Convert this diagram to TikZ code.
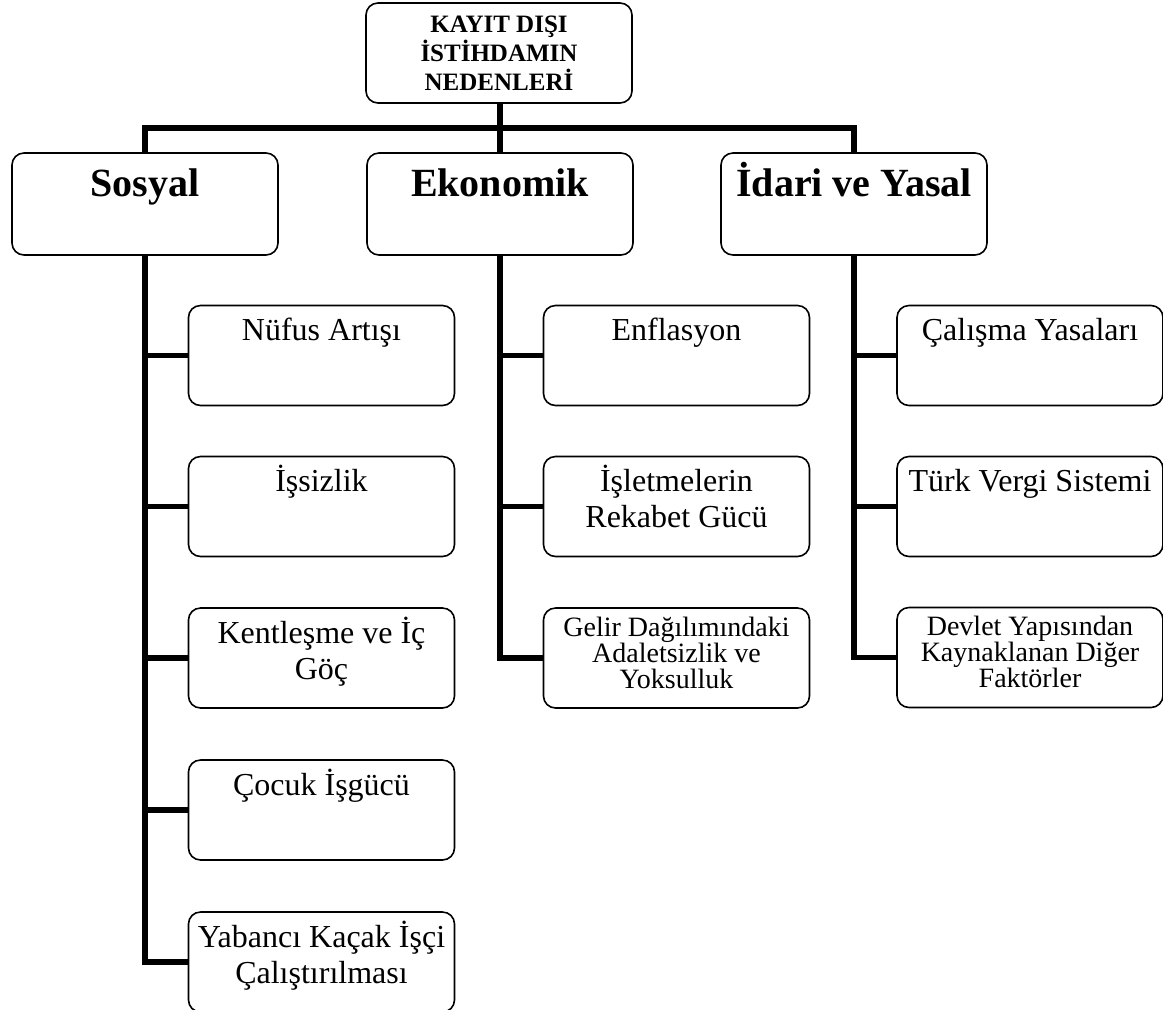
\documentclass[tikz,border=0pt]{standalone}
\usepackage{fontspec}
\setmainfont{Liberation Serif}
\newcommand{\kutuyazi}[1]{\parbox[t]{130pt}{\centering #1}}

\begin{document}
\begin{tikzpicture}[x=0.5pt, y=-0.5pt,
    kutu/.style={draw, line width=0.8pt, rounded corners=6pt,
        minimum width=133pt, minimum height=50pt, inner sep=0pt},
    ana/.style={kutu, minimum height=51pt},
    metin/.style={anchor=base, inner sep=0pt, yshift=-18pt,
        font=\fontsize{16}{18}\selectfont},
    kucuk/.style={metin, yshift=3.5pt, font=\fontsize{14}{13}\selectfont},
    baslikyazi/.style={metin, yshift=-4pt, font=\bfseries\fontsize{20}{24}\selectfont},
    hat/.style={line width=2.6pt, line join=miter}]
    \useasboundingbox (0,0) rectangle (1163,1009);

    % ust kutu
    \node[kutu, align=center, font=\bfseries\fontsize{12.5}{14.5}\selectfont]
        (baslik) at (499,53) {KAYIT DIŞI\\İSTİHDAMIN\\NEDENLERİ};

    % ana basliklar
    \node[ana, label={[baslikyazi]north:Sosyal}] (sosyal) at (145,204) {};
    \node[ana, label={[baslikyazi]north:Ekonomik}] (ekonomik) at (500,204) {};
    \node[ana, label={[baslikyazi]north:İdari ve Yasal}] (idari) at (854,204) {};

    % sosyal
    \node[kutu, label={[metin]north:\kutuyazi{Nüfus Artışı}}] (nufus) at (321.5,355.5) {};
    \node[kutu, label={[metin]north:\kutuyazi{İşsizlik}}] (issizlik) at (321.5,506.5) {};
    \node[kutu, label={[metin]north:\kutuyazi{Kentleşme ve İç\\Göç}}] (kentlesme) at (321.5,658) {};
    \node[kutu, label={[metin]north:\kutuyazi{Çocuk İşgücü}}] (cocuk) at (321.5,810) {};
    \node[kutu, label={[metin]north:\kutuyazi{Yabancı Kaçak İşçi\\Çalıştırılması}}] (yabanci) at (321.5,962) {};

    % ekonomik
    \node[kutu, label={[metin]north:\kutuyazi{Enflasyon}}] (enflasyon) at (676.5,355.5) {};
    \node[kutu, label={[metin]north:\kutuyazi{İşletmelerin\\Rekabet Gücü}}] (rekabet) at (676.5,506.5) {};
    \node[kutu, label={[kucuk]north:\kutuyazi{Gelir Dağılımındaki\\Adaletsizlik ve\\Yoksulluk}}] (gelir) at (676.5,658) {};

    % idari ve yasal
    \node[kutu, label={[metin]north:\kutuyazi{Çalışma Yasaları}}] (calisma) at (1030,355.5) {};
    \node[kutu, label={[metin]north:\kutuyazi{Türk Vergi Sistemi}}] (vergi) at (1030,506.5) {};
    \node[kutu, label={[kucuk]north:\kutuyazi{Devlet Yapısından\\Kaynaklanan Diğer\\Faktörler}}] (devlet) at (1030,657.5) {};

    % baglantilar
    \coordinate (bus) at (500,128);
    \draw[hat] (baslik.south -| ekonomik.north) -- (ekonomik.north);
    \draw[hat] (sosyal.north) -- (sosyal.north |- bus) -- (idari.north |- bus) -- (idari.north);

    \draw[hat] (sosyal.south) |- (yabanci.west);
    \foreach \k in {nufus, issizlik, kentlesme, cocuk}
        \draw[hat] (sosyal.south |- \k.west) -- (\k.west);

    \draw[hat] (ekonomik.south) |- (gelir.west);
    \foreach \k in {enflasyon, rekabet}
        \draw[hat] (ekonomik.south |- \k.west) -- (\k.west);

    \draw[hat] (idari.south) |- (devlet.west);
    \foreach \k in {calisma, vergi}
        \draw[hat] (idari.south |- \k.west) -- (\k.west);
\end{tikzpicture}
\end{document}
